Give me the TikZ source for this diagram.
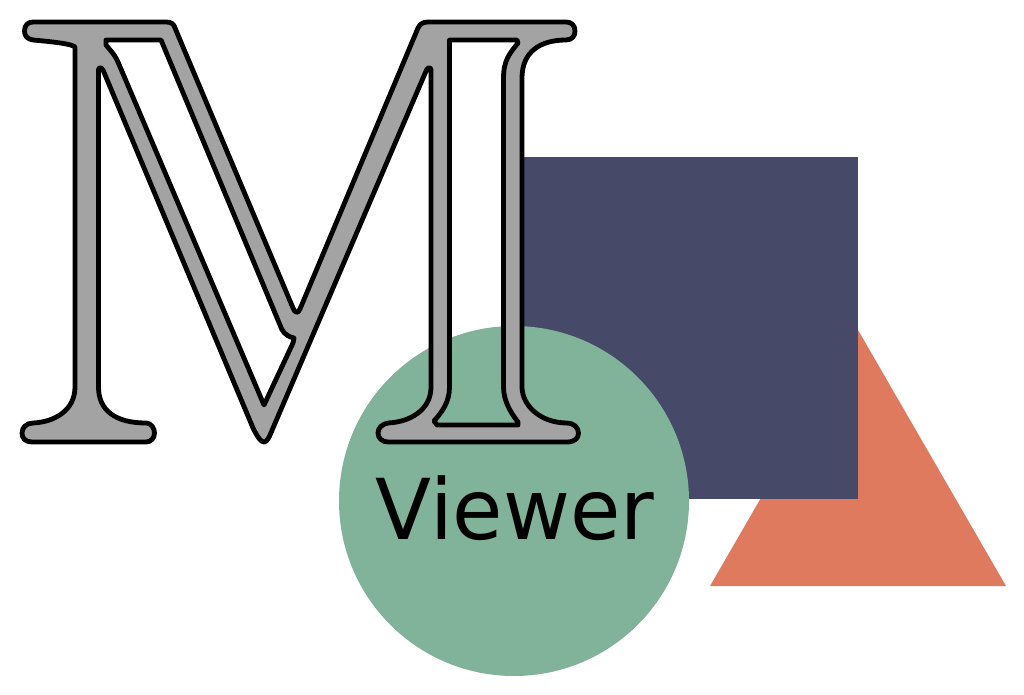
\documentclass[tikz,border=0pt]{standalone}
\usepackage{fontspec}
\setmainfont{DejaVu Sans}
\usetikzlibrary{positioning}
\definecolor{squarecol}{HTML}{464967}
\definecolor{circlecol}{HTML}{81B29A}
\definecolor{trianglecol}{HTML}{E07A5F}
\definecolor{lettercol}{HTML}{A3A3A3}
\begin{document}
\begin{tikzpicture}[x=1pt,y=-1pt,
    letter/.style={fill=lettercol,draw=black,line width=4.8pt,line join=round,even odd rule},
    title/.style={anchor=base,inner sep=0pt,transform shape,xscale=0.975,font=\fontsize{84}{84}\selectfont}]
    \useasboundingbox (0,0) rectangle (1024,695);
    \fill [trianglecol] (710,586) -- (858,330) -- (1006,586) -- cycle;
    \fill [squarecol] (517,157) rectangle (858,498.5);
    \fill [circlecol] (514,501) circle [radius=175];
    \draw [letter] (33,22) -- (166,22) .. controls (171,22) and (174,24) .. (175,28)
        -- (293,308) .. controls (295,313) and (298,314) .. (300,309)
        -- (418,28) .. controls (420,24) and (423,22) .. (428,22)
        -- (566,22) .. controls (571,22) and (575,25) .. (575,31)
        .. controls (575,36) and (572,40) .. (566,40)
        .. controls (540,40) and (522,52) .. (522,78)
        -- (522,387) .. controls (522,405) and (540,423) .. (567,423)
        .. controls (574,423) and (578.5,428) .. (578.5,433)
        .. controls (578.5,438) and (575,442) .. (567,442)
        -- (388,442) .. controls (382,442) and (378,438) .. (378,433)
        .. controls (378,428) and (382,424) .. (388,423)
        .. controls (410,422) and (431,410) .. (431,387)
        -- (431,70) .. controls (431,67) and (428,67) .. (426.5,70)
        -- (273,428) .. controls (269,438) and (267,442) .. (264,442)
        .. controls (261,442) and (258,438) .. (253,428)
        -- (103,70) .. controls (101,67) and (98.5,67) .. (98.5,70)
        -- (98.5,387) .. controls (98.5,410) and (115,423) .. (146,423)
        .. controls (151,423) and (154.5,428) .. (154.5,433)
        .. controls (154.5,438) and (151,442) .. (146,442)
        -- (32,442) .. controls (25,442) and (22,438) .. (22,433)
        .. controls (22,428) and (26,423) .. (33,423)
        .. controls (55,422) and (75,410) .. (75,387)
        -- (75,47) .. controls (72,44) and (55,42) .. (33,40)
        .. controls (27,39) and (24.5,36) .. (24.5,31)
        .. controls (24.5,25) and (28,22) .. (33,22) -- cycle
        (106,40) -- (161,40) -- (280,325)
        .. controls (282,331) and (285,336) .. (294,338)
        -- (293,343) -- (264,405) -- (118,62)
        .. controls (114,53) and (108,48) .. (106,45) -- cycle
        (449.5,40) -- (517,40) -- (518,43)
        .. controls (510,53) and (503.5,60) .. (503.5,78)
        -- (503.5,387) .. controls (503.5,400) and (510,412) .. (518,422)
        -- (518,425) -- (437,425) -- (434,421)
        .. controls (442,412) and (449.5,402) .. (449.5,387) -- cycle;
    \node [title] (viewer) at (515,539) {Viewer};
\end{tikzpicture}
\end{document}
